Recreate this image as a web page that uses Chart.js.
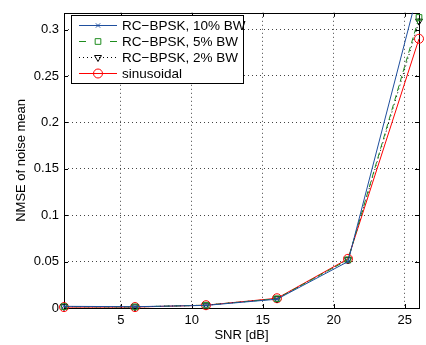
<!DOCTYPE html>
<html>
<head>
<meta charset="utf-8">
<script src="https://cdn.jsdelivr.net/npm/chart.js@4"></script>
<style>
  html, body { margin: 0; padding: 0; background: #fff; }
  #wrap { width: 426px; height: 345px; }
</style>
</head>
<body>
<div id="wrap"><canvas id="nmse"></canvas></div>
<script>
// SNR sweep and NMSE of the estimated noise mean
const snr = [1, 6, 11, 16, 21, 26];
const bw10 = [0.0018, 0.0014, 0.0028, 0.0095, 0.050, 0.345];
const bw5 = [0.0015, 0.0012, 0.0030, 0.0100, 0.052, 0.313];
const bw2 = [0.0015, 0.0012, 0.0030, 0.0100, 0.052, 0.309];
const sinus = [0.0010, 0.0010, 0.0030, 0.0105, 0.053, 0.290];

const xTicks = [5, 10, 15, 20, 25];
const yTicks = [0, 0.05, 0.1, 0.15, 0.2, 0.25, 0.3];

const FONT = "'Liberation Sans', Arial, sans-serif";

function pts(ys) {
    return snr.map(function (x, i) { return { x: x, y: ys[i] }; });
}

const clipBox = { left: 8, top: 0, right: 8, bottom: 8 };

// axes box, inward ticks on all four sides
const frame = {
    id: "frame",
    beforeDatasetsDraw(chart) {
        const { ctx, chartArea: a, scales } = chart;
        ctx.save();
        ctx.strokeStyle = "#000";
        ctx.lineWidth = 1;
        ctx.beginPath();
        xTicks.forEach(function (v) {
            const px = Math.round(scales.x.getPixelForValue(v)) + 0.5;
            ctx.moveTo(px, a.bottom); ctx.lineTo(px, a.bottom - 4);
            ctx.moveTo(px, a.top); ctx.lineTo(px, a.top + 4);
        });
        yTicks.forEach(function (v) {
            const py = Math.round(scales.y.getPixelForValue(v)) + 0.5;
            ctx.moveTo(a.left, py); ctx.lineTo(a.left + 4, py);
            ctx.moveTo(a.right, py); ctx.lineTo(a.right - 4, py);
        });
        ctx.stroke();
        ctx.strokeRect(Math.round(a.left) + 0.5, Math.round(a.top) + 0.5,
            Math.round(a.right - a.left), Math.round(a.bottom - a.top));
        ctx.restore();
    }
};

// boxed legend with line sample and marker per series
const boxLegend = {
    id: "boxLegend",
    afterDatasetsDraw(chart) {
        const ctx = chart.ctx;
        const x0 = 71.5, y0 = 15.5, w = 172, h = 68;
        const rowH = 16;
        ctx.save();
        ctx.fillStyle = "#fff";
        ctx.fillRect(x0, y0, w, h);
        ctx.strokeStyle = "#000";
        ctx.lineWidth = 1;
        ctx.strokeRect(x0, y0, w, h);
        chart.data.datasets.forEach(function (ds, i) {
            const cy = y0 + 10 + i * rowH;
            ctx.strokeStyle = ds.borderColor;
            ctx.lineWidth = ds.borderWidth;
            ctx.setLineDash(ds.legendDash || ds.borderDash || []);
            ctx.beginPath();
            ctx.moveTo(79, cy);
            ctx.lineTo(117, cy);
            ctx.stroke();
            ctx.setLineDash([]);
            ctx.fillStyle = "rgba(0,0,0,0)";
            ctx.strokeStyle = ds.pointBorderColor;
            ctx.lineWidth = 1;
            Chart.helpers.drawPoint(ctx, {
                pointStyle: ds.pointStyle,
                radius: ds.pointRadius,
                rotation: ds.pointRotation || 0,
                borderWidth: 1
            }, 98, cy);
            ctx.fillStyle = "#000";
            ctx.font = "13.5px " + FONT;
            ctx.textBaseline = "middle";
            ctx.fillText(ds.label, 122, cy + 1);
        });
        ctx.restore();
    }
};

new Chart(document.getElementById("nmse"), {
    type: "line",
    data: {
        datasets: [{
            label: "RC\u2212BPSK, 10% BW",
            data: pts(bw10),
            borderColor: "#1f4f9e",
            borderWidth: 1,
            pointStyle: "crossRot",
            pointRadius: 3,
            pointBorderColor: "#1f4f9e",
            clip: clipBox,
        }, {
            label: "RC\u2212BPSK, 5% BW",
            data: pts(bw5),
            borderColor: "#1e8c1e",
            borderWidth: 1,
            borderDash: [6, 4],
            legendDash: [7, 24],
            pointStyle: "rect",
            pointRadius: 4,
            pointBorderColor: "#1e8c1e",
            pointBackgroundColor: "rgba(0,0,0,0)",
            clip: clipBox,
        }, {
            label: "RC\u2212BPSK, 2% BW",
            data: pts(bw2),
            borderColor: "#000",
            borderWidth: 1,
            borderDash: [1, 3],
            pointStyle: "triangle",
            pointRotation: 180,
            pointRadius: 4,
            pointBorderColor: "#000",
            pointBackgroundColor: "rgba(0,0,0,0)",
            clip: clipBox,
        }, {
            label: "sinusoidal",
            data: pts(sinus),
            borderColor: "#ff0000",
            borderWidth: 1,
            pointStyle: "circle",
            pointRadius: 4.5,
            pointBorderColor: "#ff0000",
            pointBackgroundColor: "rgba(0,0,0,0)",
            clip: clipBox,
        }],
    },
    options: {
        responsive: true,
        maintainAspectRatio: false,
        animation: false,
        devicePixelRatio: 1,
        layout: { padding: { left: 0, right: 7, top: 9, bottom: 0 } },
        elements: { line: { tension: 0 }, point: { borderWidth: 1, hoverRadius: 4 } },
        plugins: {
            legend: { display: false },
            tooltip: { enabled: false },
        },
        scales: {
            x: {
                type: "linear",
                min: 1,
                max: 26,
                afterBuildTicks(scale) {
                    scale.ticks = xTicks.map(function (v) { return { value: v }; });
                },
                afterFit(scale) { scale.height = 37; },
                grid: { color: "#444", drawTicks: false, lineWidth: 1 },
                border: { display: false, dash: [1, 3] },
                ticks: {
                    color: "#000",
                    padding: 5,
                    maxRotation: 0,
                    font: { family: FONT, size: 13 },
                    callback: function (v) { return String(v); },
                },
                title: {
                    display: true,
                    text: "SNR [dB]",
                    color: "#000",
                    font: { family: FONT, size: 13 },
                    padding: { top: 0, bottom: 2 },
                },
            },
            y: {
                min: 0,
                max: 0.318,
                afterBuildTicks(scale) {
                    scale.ticks = yTicks.map(function (v) { return { value: v }; });
                },
                afterFit(scale) { scale.width = 64; },
                grid: { color: "#444", drawTicks: false, lineWidth: 1 },
                border: { display: false, dash: [1, 3] },
                ticks: {
                    color: "#000",
                    padding: 5,
                    font: { family: FONT, size: 13 },
                    callback: function (v) { return String(v); },
                },
                title: {
                    display: true,
                    text: "NMSE of noise mean",
                    color: "#000",
                    font: { family: FONT, size: 13 },
                    padding: { top: 14, bottom: 0 },
                },
            },
        },
    },
    plugins: [frame, boxLegend],
});
</script>
</body>
</html>
